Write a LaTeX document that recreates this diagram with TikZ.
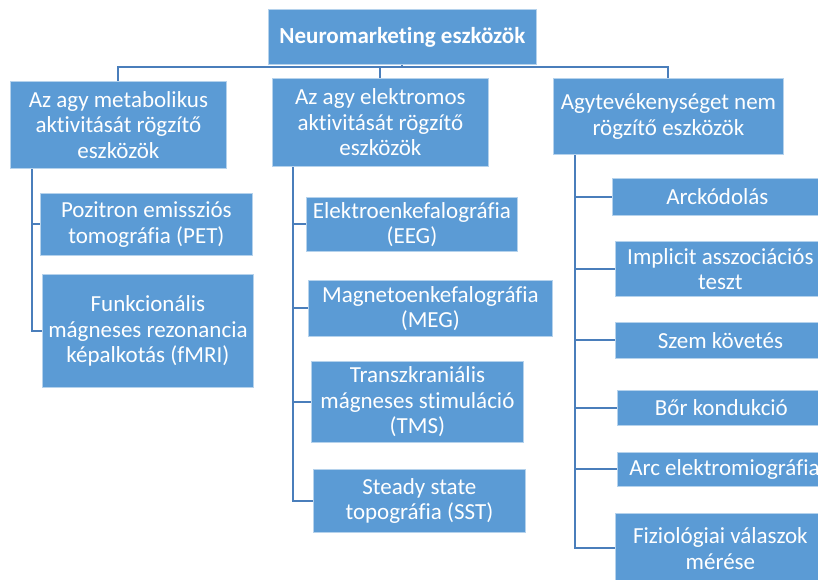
\documentclass[tikz,border=0pt]{standalone}
\usepackage{fontspec}
\setmainfont{Carlito}[Ligatures=NoCommon]
\usepackage{tikz}
\usetikzlibrary{positioning, backgrounds}

\definecolor{boxblue}{RGB}{91,155,213}
\definecolor{lineblue}{RGB}{74,126,187}

\begin{document}
\begin{tikzpicture}[
    x=1pt, y=-1pt,
    box/.style={rectangle, draw=white!55!boxblue, line width=0.8pt, fill=boxblue, text=white,
        anchor=north west, inner sep=0pt, align=center,
        font=\fontsize{23}{25.5}\selectfont},
    title/.style={box, font=\fontsize{23}{25.5}\selectfont\bfseries},
    conn/.style={draw=lineblue, line width=2pt}
]
\useasboundingbox (0,0) rectangle (818,579);
\clip (0,0) rectangle (818,579);

% Root node
\node[title, minimum width=268pt, minimum height=55pt] (root) at (268,9) {Neuromarketing eszközök};

% Three main groups
\node[box, minimum width=216pt, minimum height=87pt] (metab) at (10,81) {Az agy metabolikus\\aktivitását rögzítő\\eszközök};
\node[box, minimum width=216pt, minimum height=88pt] (elek) at (272,78) {Az agy elektromos\\aktivitását rögzítő\\eszközök};
\node[box, minimum width=230pt, minimum height=76pt] (nem) at (553,78) {Agytevékenységet nem\\rögzítő eszközök};

% Metabolic tools
\node[box, minimum width=212pt, minimum height=62pt] (pet) at (40,193) {Pozitron emissziós\\tomográfia (PET)};
\node[box, minimum width=211pt, minimum height=113pt] (fmri) at (42,274) {Funkcionális\\mágneses rezonancia\\képalkotás (fMRI)};

% Electric tools
\node[box, minimum width=211pt, minimum height=54pt] (eeg) at (306,197) {Elektroenkefalográfia\\(EEG)};
\node[box, minimum width=244pt, minimum height=56pt] (meg) at (308,280) {Magnetoenkefalográfia\\(MEG)};
\node[box, minimum width=212pt, minimum height=81pt] (tms) at (311,361) {Transzkraniális\\mágneses stimuláció\\(TMS)};
\node[box, minimum width=212pt, minimum height=63pt] (sst) at (313,469) {Steady state\\topográfia (SST)};

% Other tools
\node[box, minimum width=210pt, minimum height=37pt] (arc) at (612,178) {Arckódolás};
\node[box, minimum width=210pt, minimum height=55pt] (iat) at (615,241) {Implicit asszociációs\\teszt};
\node[box, minimum width=210pt, minimum height=36pt] (szem) at (615,322) {Szem követés};
\node[box, minimum width=208pt, minimum height=35pt] (bor) at (617,390) {Bőr kondukció};
\node[box, minimum width=214pt, minimum height=34pt] (emg) at (617,452) {Arc elektromiográfia};
\node[box, minimum width=210pt, minimum height=70pt] (fiz) at (615,513) {Fiziológiai válaszok\\mérése};

% Edges
\begin{scope}[on background layer]
\draw[conn] (root.south) -- ++(0,2) -| (metab.north);
\draw[conn] (root.south) -- ++(0,2) -| (elek.north);
\draw[conn] (root.south) -- ++(0,2) -| (nem.north);

\draw[conn] ([xshift=22pt]metab.south west) |- (pet.west);
\draw[conn] ([xshift=22pt]metab.south west) |- (fmri.west);

\draw[conn] ([xshift=21pt]elek.south west) |- (eeg.west);
\draw[conn] ([xshift=21pt]elek.south west) |- (meg.west);
\draw[conn] ([xshift=21pt]elek.south west) |- (tms.west);
\draw[conn] ([xshift=21pt]elek.south west) |- (sst.west);

\draw[conn] ([xshift=22pt]nem.south west) |- (arc.west);
\draw[conn] ([xshift=22pt]nem.south west) |- (iat.west);
\draw[conn] ([xshift=22pt]nem.south west) |- (szem.west);
\draw[conn] ([xshift=22pt]nem.south west) |- (bor.west);
\draw[conn] ([xshift=22pt]nem.south west) |- (emg.west);
\draw[conn] ([xshift=22pt]nem.south west) |- ([yshift=-35pt]fiz.north west);
\end{scope}

\end{tikzpicture}
\end{document}
